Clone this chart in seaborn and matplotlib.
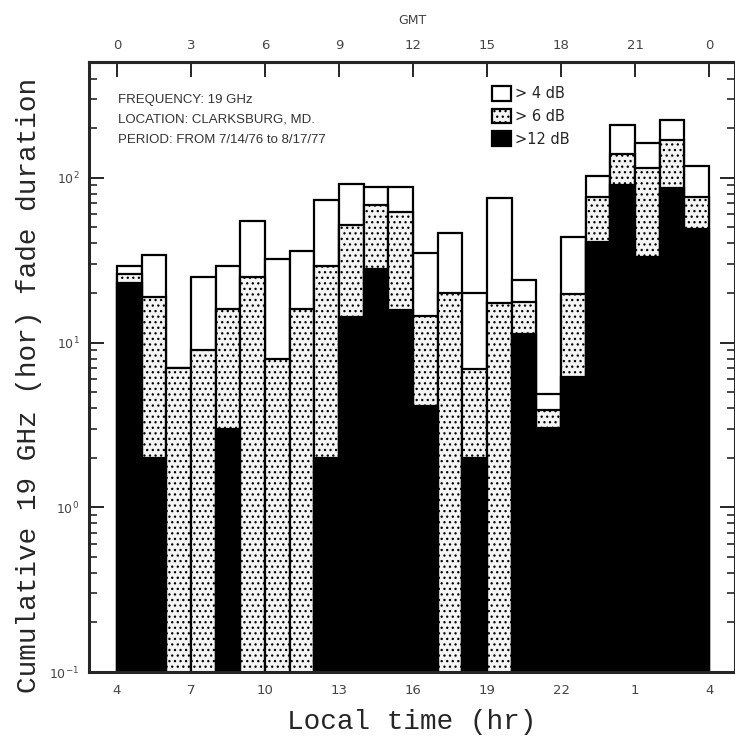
import numpy as np
import pandas as pd
import matplotlib
matplotlib.use('Agg')
import matplotlib.pyplot as plt
from matplotlib.patches import Patch
from matplotlib.ticker import LogLocator, NullFormatter
import seaborn as sns

# valeurs (heures cumulées d'affaiblissement)
hours = list(range(4, 28))
fade_4db = [29, 34, 7, 25, 29, 55, 32, 36, 73, 92, 88, 88,
            35, 46, 20, 75, 24, 4.9, 44, 103, 210, 163, 226, 118]
fade_6db = [26, 19, 7, 9, 16, 25, 8, 16, 29, 52, 68, 62,
            14.4, 20, 6.9, 17.4, 17.6, 3.9, 19.6, 77, 140, 115, 169, 77]
fade_12db = [23, 2.0, 0, 0, 3.0, 0, 0, 0, 2.0, 14.3, 28, 15.7,
             4.1, 0, 2.0, 0, 11.3, 3.05, 6.2, 41, 91, 33, 87, 49]
levels = ['> 4 dB', '> 6 dB', '>12 dB']
local_ticks = [4, 7, 10, 13, 16, 19, 22, 25, 28]
local_labels = ['4', '7', '10', '13', '16', '19', '22', '1', '4']
gmt_labels = ['0', '3', '6', '9', '12', '15', '18', '21', '0']
info_lines = ['FREQUENCY: 19 GHz',
              'LOCATION: CLARKSBURG, MD.',
              'PERIOD: FROM 7/14/76 to 8/17/77']

rows = []
for lvl, vals in zip(levels, [fade_4db, fade_6db, fade_12db]):
    for h, v in zip(hours, vals):
        if v > 0:
            rows.append({'pos': h + 0.5, 'level': lvl, 'value': v})
df = pd.DataFrame(rows)

sns.set_style('ticks')
plt.rcParams['hatch.linewidth'] = 0.9
plt.rcParams['hatch.color'] = 'black'

colors = {'> 4 dB': 'white', '> 6 dB': '#f4f4f4', '>12 dB': 'black'}

fig = plt.figure(figsize=(7.35, 7.44), dpi=100)
ax = fig.add_axes([89 / 735, 1 - 672 / 744, 1 - 89 / 735, (672 - 62) / 744])
ax.set_yscale('log')

sns.barplot(data=df, x='pos', y='value', hue='level', hue_order=levels,
            palette=colors, dodge=False, native_scale=True, width=1,
            edgecolor='black', linewidth=1.6, errorbar=None, legend=False, ax=ax)

# pointillé pour > 6 dB
for p in ax.patches:
    fc = p.get_facecolor()
    if abs(fc[0] - 0xf4 / 255) < 0.01:
        p.set_hatch('...')

ax.set_ylim(0.1, 505)
ax.set_xlim(2.87, 29.05)

ax.yaxis.set_major_locator(LogLocator(base=10, numticks=10))
ax.yaxis.set_minor_locator(LogLocator(base=10, subs=np.arange(2, 10), numticks=50))
ax.yaxis.set_minor_formatter(NullFormatter())
ax.tick_params(axis='y', which='major', direction='in', length=11, width=1.4,
               labelsize=9, labelcolor='#444444', right=True, pad=7)
ax.tick_params(axis='y', which='minor', direction='in', length=6, width=1.2, right=True)

ax.set_xticks(local_ticks, labels=local_labels)
ax.tick_params(axis='x', direction='in', length=5, width=1.2, labelsize=9.5,
               labelcolor='#444444', pad=9)

secax = ax.secondary_xaxis('top')
secax.set_xticks(local_ticks, labels=gmt_labels)
secax.tick_params(direction='in', length=11, width=1.4, labelsize=9.5,
                  labelcolor='#444444', pad=7)
secax.spines['top'].set_linewidth(2.2)
secax.set_xlabel('GMT', fontsize=9, color='#444444', labelpad=11)

for s in ax.spines.values():
    s.set_linewidth(2.2)

ax.set_xlabel('Local time (hr)', family='Liberation Mono', fontsize=20, labelpad=8)
ax.set_ylabel('Cumulative 19 GHz (hor) fade duration', family='Liberation Mono',
              fontsize=20)
ax.yaxis.set_label_coords(-0.073, 0.47)

for i, line in enumerate(info_lines):
    fig.text(118 / 735, 1 - (100 + i * 20) / 744, line, fontsize=9.5,
             color='#333333', va='center', family='Liberation Sans')

handles = [Patch(facecolor='white', edgecolor='black', linewidth=1.6),
           Patch(facecolor='#f4f4f4', edgecolor='black', linewidth=1.6, hatch='...'),
           Patch(facecolor='black', edgecolor='black', linewidth=1.6)]
ax.legend(handles, levels, loc='upper left', bbox_to_anchor=(486 / 735, 1 - 80 / 744),
          bbox_transform=fig.transFigure, frameon=False, fontsize=10.5,
          handlelength=1.3, handleheight=1.2, handletextpad=0.3, labelspacing=0.5,
          borderaxespad=0)

fig.savefig('out.png', dpi=100)
